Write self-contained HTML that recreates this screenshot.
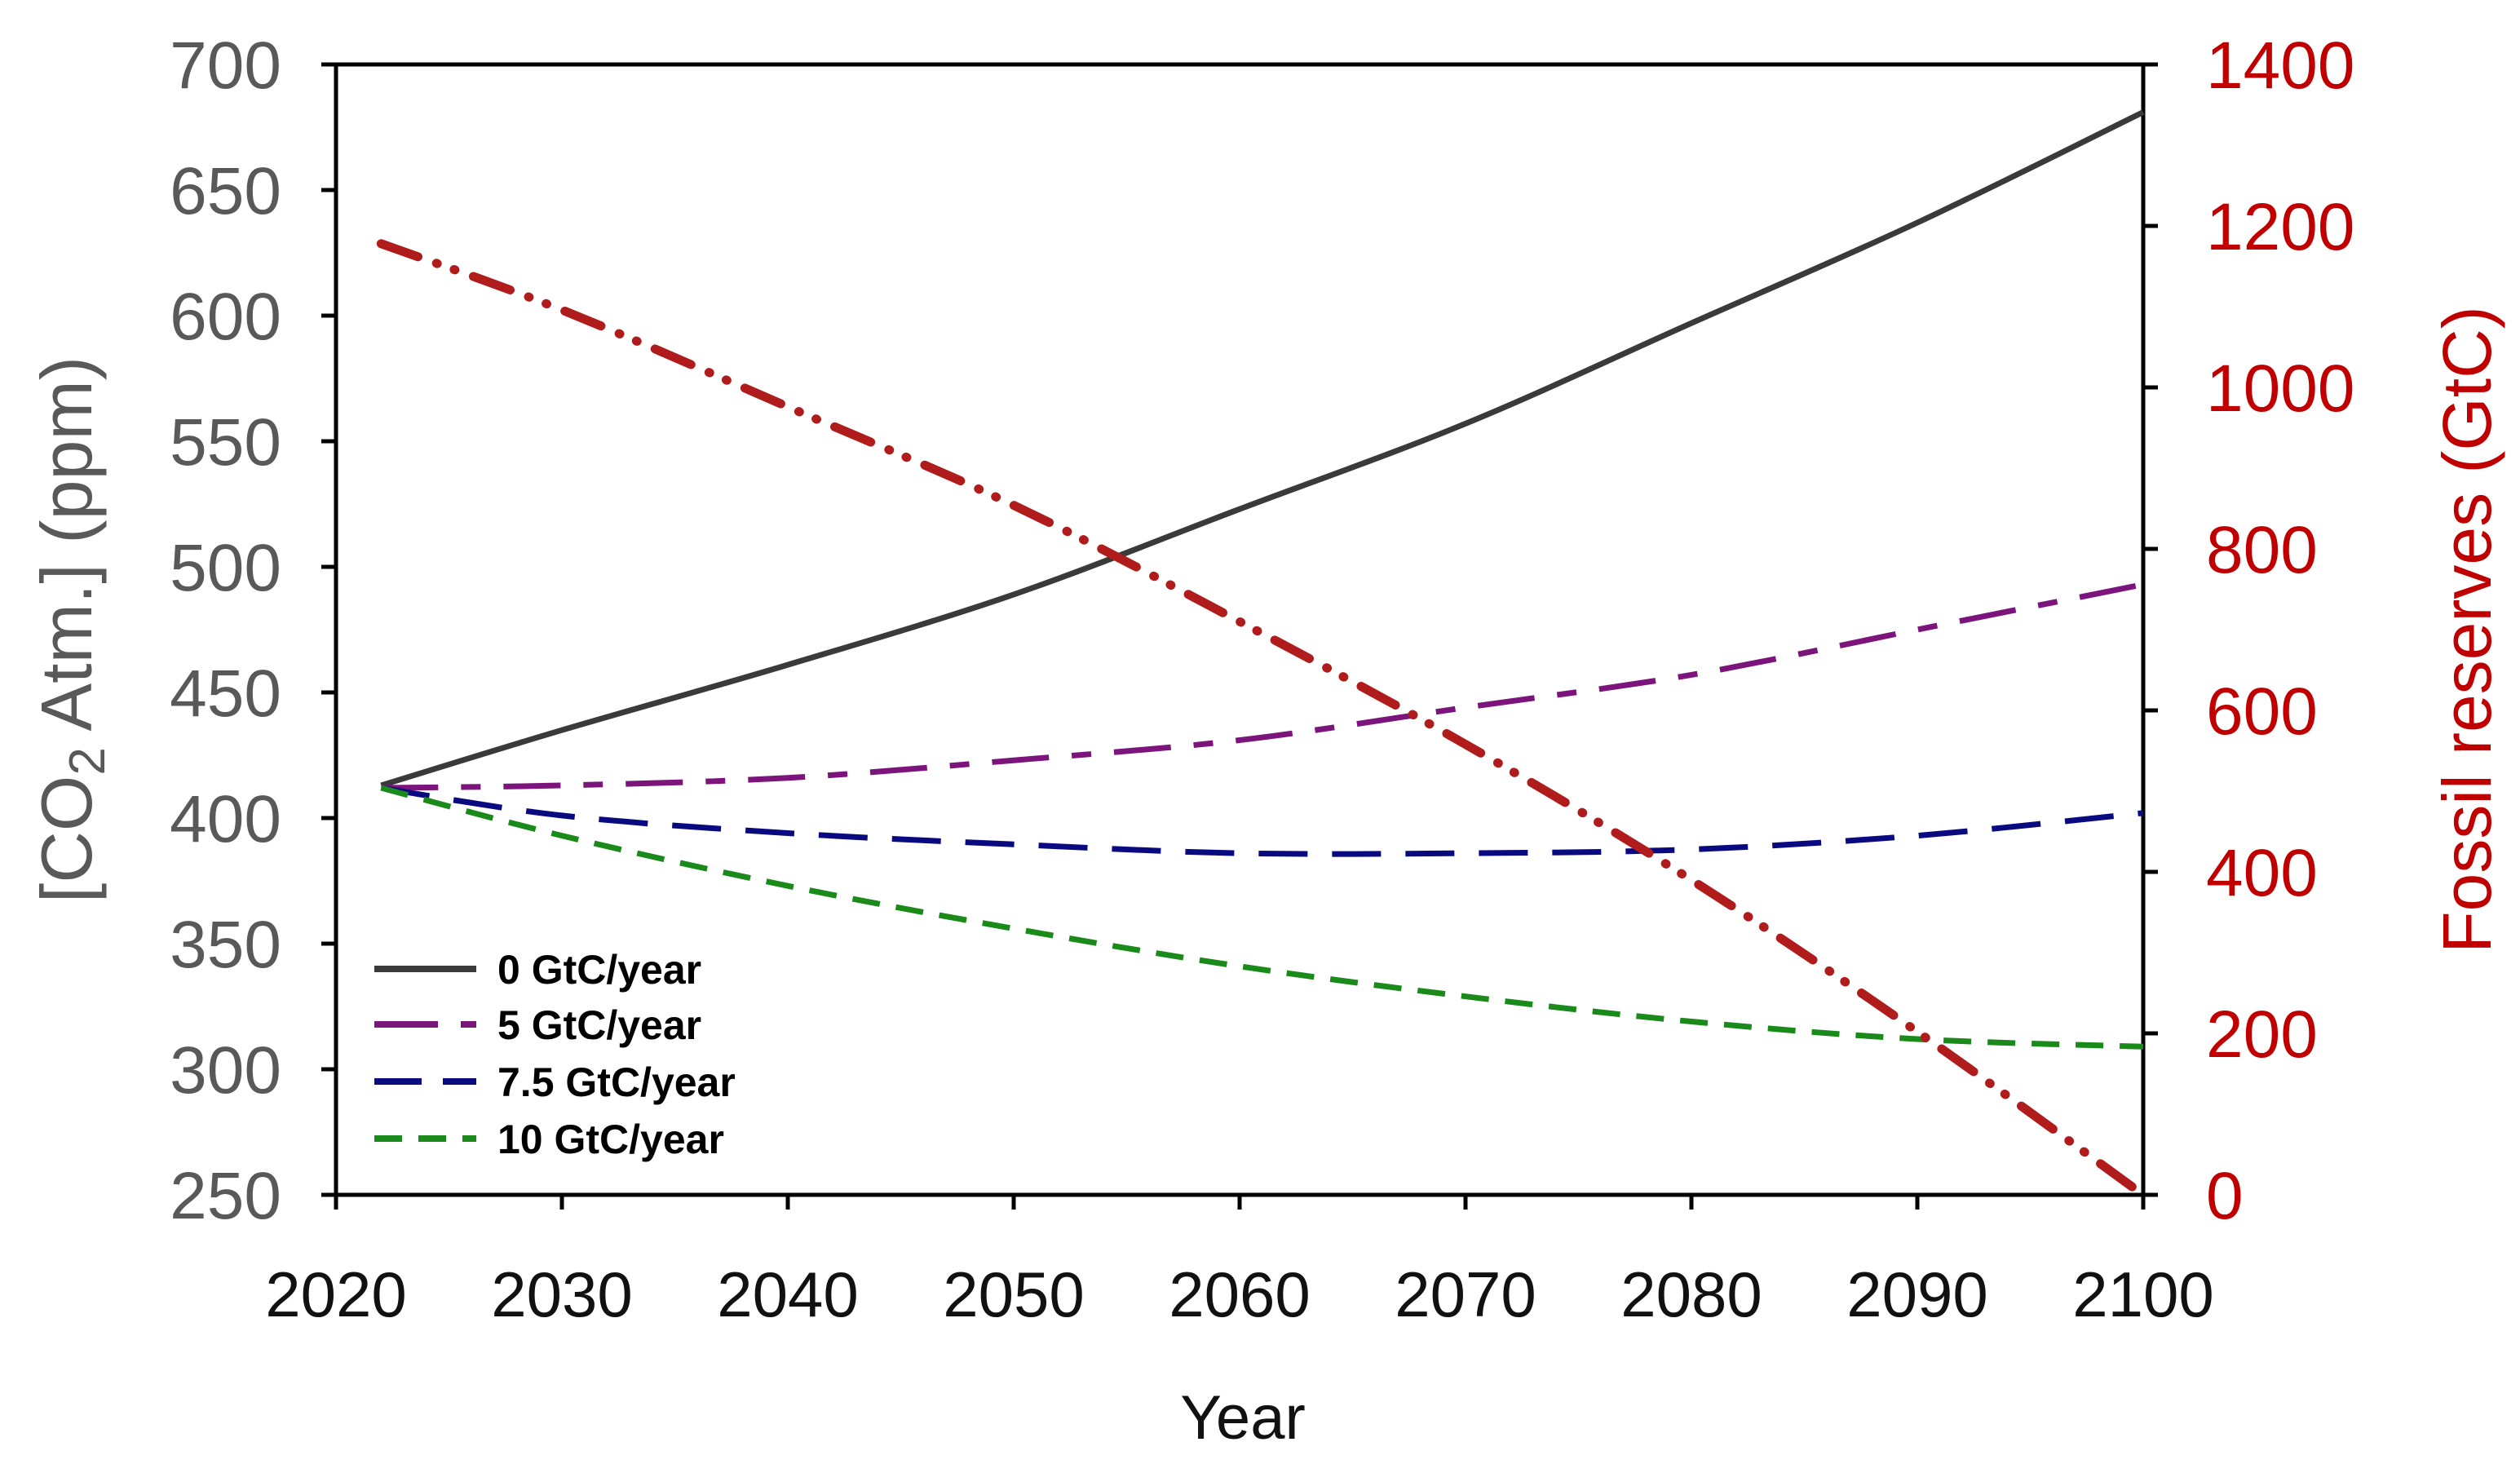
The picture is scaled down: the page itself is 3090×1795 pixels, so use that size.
<!DOCTYPE html>
<html><head><meta charset="utf-8"><style>
html,body{margin:0;padding:0;background:#fff;}
svg text{font-family:"Liberation Sans",sans-serif;}
</style></head><body>
<svg id="chart" width="3090" height="1790" viewBox="0 0 3090 1790" xmlns="http://www.w3.org/2000/svg">
<g id="axes"></g>
<g id="series"></g>
<g id="legend"></g>
</svg>
<script>
const years = [2022, 2030, 2040, 2050, 2060, 2070, 2080, 2090, 2100];
const co2_0 = [413, 435, 461, 489, 523, 557, 597, 637, 681];
const co2_5 = [412, 413, 416, 423, 431, 444, 457, 475, 493];
const co2_75 = [412, 401, 394, 389.5, 386, 386, 387.5, 393, 402];
const co2_10 = [412, 393, 373, 356, 341, 329, 319, 312, 309];
const fossil = [1178, 1096, 976, 854, 710, 558, 390, 202, 0];
const xTicks = [2020, 2030, 2040, 2050, 2060, 2070, 2080, 2090, 2100];
const yTicks = [250, 300, 350, 400, 450, 500, 550, 600, 650, 700];
const y2Ticks = [0, 200, 400, 600, 800, 1000, 1200, 1400];
const legendLabels = ["0 GtC/year", "5 GtC/year", "7.5 GtC/year", "10 GtC/year"];

const NS = "http://www.w3.org/2000/svg";
const L = 412, R = 2628, T = 79, B = 1465;
const xS = v => L + (v - 2020) / 80 * (R - L);
const yS = v => B - (v - 250) / 450 * (B - T);
const y2S = v => B - v / 1400 * (B - T);
function mk(tag, attrs, parent) {
  const e = document.createElementNS(NS, tag);
  for (const k in attrs) e.setAttribute(k, attrs[k]);
  parent.appendChild(e);
  return e;
}
function smooth(pts) {
  let d = 'M' + pts[0][0] + ',' + pts[0][1];
  for (let i = 0; i < pts.length - 1; i++) {
    const p0 = pts[Math.max(0, i - 1)], p1 = pts[i], p2 = pts[i + 1], p3 = pts[Math.min(pts.length - 1, i + 2)];
    const c1x = p1[0] + (p2[0] - p0[0]) / 6, c1y = p1[1] + (p2[1] - p0[1]) / 6;
    const c2x = p2[0] - (p3[0] - p1[0]) / 6, c2y = p2[1] - (p3[1] - p1[1]) / 6;
    d += ' C' + c1x.toFixed(1) + ',' + c1y.toFixed(1) + ' ' + c2x.toFixed(1) + ',' + c2y.toFixed(1) + ' ' + p2[0].toFixed(1) + ',' + p2[1].toFixed(1);
  }
  return d;
}
const ax = document.getElementById('axes');
const frame = mk('rect', {x: L, y: T, width: R - L, height: B - T, fill: 'none', stroke: '#000', 'stroke-width': 5}, ax);


xTicks.forEach(v => {
  const t = mk('line', {x1: xS(v), x2: xS(v), y1: B, y2: B + 18, stroke: '#000', 'stroke-width': 5}, ax);
  
  
  const tx = mk('text', {x: xS(v), y: 1614, 'text-anchor': 'middle', 'font-size': 78, fill: '#111'}, ax);
  tx.textContent = v;
  
  
});
yTicks.forEach(v => {
  const t = mk('line', {x1: L - 18, x2: L, y1: yS(v), y2: yS(v), stroke: '#000', 'stroke-width': 5}, ax);
  
  
  const tx = mk('text', {x: 345, y: yS(v) + 29, 'text-anchor': 'end', 'font-size': 82, fill: '#595959'}, ax);
  tx.textContent = v;
  
  
});
y2Ticks.forEach(v => {
  const t = mk('line', {x1: R, x2: R + 18, y1: y2S(v), y2: y2S(v), stroke: '#000', 'stroke-width': 5}, ax);
  
  
  const tx = mk('text', {x: 2705, y: y2S(v) + 29, 'text-anchor': 'start', 'font-size': 82, fill: '#c00000'}, ax);
  tx.textContent = v;
  
  
});
const xt = mk('text', {x: 1524, y: 1764, 'text-anchor': 'middle', 'font-size': 76, fill: '#111'}, ax);
xt.textContent = 'Year';


const yt = mk('text', {x: 0, y: 0, 'text-anchor': 'middle', 'font-size': 88, fill: '#595959', transform: 'translate(112,772) rotate(-90)'}, ax);
yt.innerHTML = '[CO<tspan font-size="62" dy="16">2</tspan><tspan dy="-16"> Atm.] (ppm)</tspan>';


const y2t = mk('text', {x: 0, y: 0, 'text-anchor': 'middle', 'font-size': 84, fill: '#c00000', transform: 'translate(3054,772) rotate(-90)'}, ax);
y2t.textContent = 'Fossil reserves (GtC)';



const sg = document.getElementById('series');
function line(vals, scale, color, width, dash, name) {
  const pts = vals.map((v, i) => [xS(years[i]), scale(v)]);
  const p = mk('path', {d: smooth(pts), fill: 'none', stroke: color, 'stroke-width': width, 'stroke-linejoin': 'round'}, sg);
  if (dash) p.setAttribute('stroke-dasharray', dash);
  
  
}
line(co2_0, yS, '#3a3a3a', 7, null, 'series-0-gtc');
line(co2_5, yS, '#7b157b', 7, '70 28 24 28', 'series-5-gtc');
line(co2_75, yS, '#0a0a80', 7, '60 30', 'series-7-5-gtc');
line(co2_10, yS, '#1a8a1a', 7, '34 20', 'series-10-gtc');
const fp = mk('path', {d: smooth(fossil.map((v, i) => [xS(years[i]), y2S(v)])), fill: 'none', stroke: '#b01c1c', 'stroke-width': 11, 'stroke-linecap': 'round', 'stroke-dasharray': '48 24 1 22 1 24'}, sg);



const lg = document.getElementById('legend');
const lColors = ['#3a3a3a', '#7b157b', '#0a0a80', '#1a8a1a'];
const lDash = [null, '78 28 24 28', '58 26', '34 20'];
const lY = [1188, 1256, 1326, 1396];
legendLabels.forEach((lab, i) => {
  const ln = mk('line', {x1: 459, x2: 584, y1: lY[i], y2: lY[i], stroke: lColors[i], 'stroke-width': 8}, lg);
  if (lDash[i]) ln.setAttribute('stroke-dasharray', lDash[i]);
  
  
  const tx = mk('text', {x: 610, y: lY[i] + 18, 'font-size': 50, 'font-weight': 'bold', fill: '#000'}, lg);
  tx.textContent = lab;
  
  
});
</script>
</body></html>
